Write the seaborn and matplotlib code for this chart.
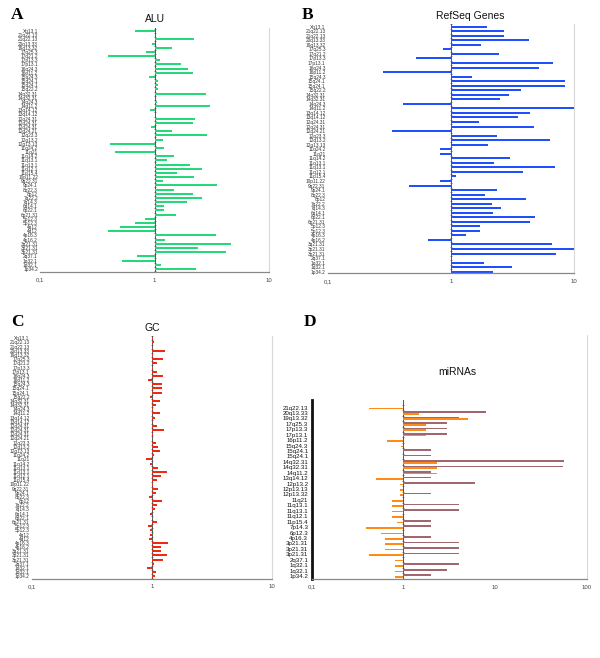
import numpy as np
import pandas as pd
import matplotlib
matplotlib.use("Agg")
import matplotlib.pyplot as plt
import seaborn as sns
from matplotlib.lines import Line2D

# ---------------- data ----------------
labels_ac = ["Xq13.1", "21q22.13", "21q22.13", "20q13.33", "19q13.32", "17q25.3", "17q21.2",
             "17p13.3", "17p13.1", "16q24.3", "16p11.2", "15q24.3", "15q24.1", "15q24.1",
             "15q22.2", "14q32.31", "14q32.31", "14q24.3", "14q11.2", "13q14.12", "13q14.12",
             "12q24.31", "12q24.31", "12q24.31", "12q24.21", "12q23.3", "12q13.2", "12q13.13",
             "11q24.2", "11q21", "11q14.2", "11q13.1", "11q13.1", "11q12.1", "11p15.4",
             "10p11.22", "9q22.31", "9p24.1", "8q22.3", "8p12", "7q22.2", "7q14.3", "6q14.1",
             "6p22.1", "6p21.31", "5p12.3", "5p12.3", "4q12", "4q12", "4p16.3", "4p16.2",
             "3q21.31", "3p21.31", "3p21.31", "2q37.1", "1q32.1", "1q32.1", "1p34.2"]

alu = [0.67, 1.0, 2.23, 0.96, 1.43, 0.84, 0.39, 1.12, 1.69, 1.95, 2.18, 0.90, 1.07, 1.07,
       1.07, 2.83, 1.0, 1.05, 3.04, 0.92, 1.0, 2.25, 2.18, 0.93, 1.43, 2.88, 1.18, 0.41,
       1.21, 0.45, 1.47, 1.29, 2.06, 2.59, 1.58, 2.21, 1.19, 3.50, 1.48, 2.16, 2.59, 1.93,
       1.22, 1.21, 1.55, 0.83, 0.68, 0.50, 0.39, 3.43, 1.23, 4.67, 2.39, 4.25, 0.70, 0.52,
       1.14, 2.31]

labels_b = ["Xq13.1", "21q22.13", "21q22.13", "20q13.33", "19q13.32", "17q25.3", "17q21.2",
            "17p13.3", "17p13.1", "16q24.3", "16p11.2", "15q24.3", "15q24.1", "15q24.1",
            "15q22.2", "14q32.31", "14q32.31", "14q24.3", "14q11.2", "13q14.12", "13q14.12",
            "12q24.31", "12q24.31", "12q24.21", "12q23.3", "12q13.2", "12q13.13",
            "11q24.2", "11q21", "11q14.2", "11q13.1", "11q13.1", "11q12.1", "11p15.4",
            "10p11.22", "9q22.31", "9p24.1", "8q22.3", "8p12", "7q22.2", "7q14.3", "6q14.1",
            "6p22.1", "6p21.31", "5p12.3", "5p12.3", "4p16.3", "4p16.2",
            "3q21.31", "3p21.31", "3p21.31", "2q37.1", "1q32.1", "1q32.1", "1p34.2"]

refseq = [1.95, 2.68, 2.68, 4.32, 1.77, 0.87, 2.45, 0.52, 6.73, 5.15, 0.28, 1.48, 8.53, 8.53,
          3.72, 2.94, 2.51, 0.41, 10.0, 4.41, 3.54, 1.69, 4.72, 0.33, 2.35, 6.40, 2.01, 0.82,
          0.82, 3.05, 2.22, 6.95, 3.87, 1.10, 0.82, 0.46, 2.35, 1.88, 4.11, 2.14, 2.55, 2.18,
          4.81, 4.38, 1.72, 1.72, 1.32, 0.65, 6.61, 10.0, 7.12, 1.0, 1.85, 3.13, 2.18]

gc = [1.03, 1.05, 1.0, 1.29, 1.03, 1.23, 1.11, 1.03, 1.11, 1.23, 0.93, 1.22, 1.21, 1.21,
      0.96, 1.16, 1.09, 1.02, 1.18, 1.07, 1.0, 1.11, 1.27, 1.02, 1.0, 1.09, 1.13, 1.16,
      1.05, 0.90, 0.97, 1.12, 1.34, 1.20, 1.11, 1.03, 1.12, 1.09, 0.94, 1.21, 1.11, 1.06,
      0.96, 1.0, 1.10, 0.93, 0.96, 0.96, 0.95, 1.36, 1.20, 1.20, 1.34, 1.25, 1.05, 0.92,
      1.08, 1.07]

labels_d = ["21q22.13", "20q13.33", "19q13.32", "17q25.3", "17p13.3", "17p13.1", "16p11.2",
            "15q24.3", "15q24.1", "15q24.1", "14q32.31", "14q32.31", "14q11.2", "13q14.12",
            "12p13.2", "12p13.13", "12p13.32", "11q21", "11q13.1", "11q13.1", "11q12.1",
            "11p15.4", "7p14.3", "6p12.3", "4p16.3", "3p21.31", "3p21.31", "3p21.31",
            "2q37.1", "1q32.1", "1q32.1", "1p34.2"]

mirna_brown = [1.0, 8.0, 4.05, 3.02, 3.02, 3.02, 1.0, 1.0, 2.02, 2.02, 56.0, 55.0, 2.02, 2.02,
               6.1, 1.0, 2.02, 1.0, 4.05, 4.05, 1.0, 2.02, 2.02, 1.0, 2.02, 4.05, 4.05, 4.05,
               1.0, 4.05, 3.02, 2.02]
mirna_orange = [0.42, 1.48, 5.08, 1.75, 1.75, 1.75, 0.67, 0.95, 1.0, 1.0, 2.35, 2.35, 2.35, 0.50,
                0.91, 0.91, 0.91, 0.75, 0.75, 0.75, 0.75, 0.85, 0.39, 0.57, 0.63, 0.63, 0.63,
                0.42, 0.81, 0.81, 0.81, 0.81]

# ---------------- style ----------------
sns.set_theme(style="white")
plt.rcParams["font.family"] = ["Liberation Sans", "DejaVu Sans"]

W, H = 600, 658
fig = plt.figure(figsize=(W / 100, H / 100), dpi=100)


def add_ax(x0, x1, ytop, ybot):
    return fig.add_axes([x0 / W, 1 - ybot / H, (x1 - x0) / W, (ybot - ytop) / H])


def solidify(ax):
    for p in ax.patches:
        p.set_linewidth(0)
        p.set_antialiased(True)


def style_axis(ax, n, ylim, xticks, xticklabels, center_frac, label_size, left_black=False):
    ax.set_ylim(*ylim)
    ax.set_xlim(xticks[0], xticks[-1])
    ax.set_xticks(xticks)
    ax.set_xticklabels(xticklabels, fontsize=4.3, color="#444444")
    ax.tick_params(axis="x", length=0, pad=4)
    ax.tick_params(axis="y", length=0, pad=1.5, labelsize=label_size, labelcolor="#333333")
    ax.set_xlabel("")
    ax.set_ylabel("")
    ax.spines["top"].set_visible(False)
    ax.spines["right"].set_color("#d8d8d8")
    ax.spines["right"].set_linewidth(0.8)
    ax.spines["bottom"].set_color("#888888")
    ax.spines["bottom"].set_linewidth(0.9)
    if left_black:
        ax.spines["left"].set_color("#111111")
        ax.spines["left"].set_linewidth(2.0)
    else:
        ax.spines["left"].set_visible(False)
    sec = ax.secondary_yaxis(center_frac)
    sec.set_yticks(np.arange(n + 1) - 0.5)
    sec.set_yticklabels([])
    sec.tick_params(length=1.6, width=0.5, direction="inout", color="#555555")
    for sp in sec.spines.values():
        sp.set_color("#555555")
        sp.set_linewidth(0.7)
    ax.grid(False)


def hpanel(box, labels, values, color, ylim, barw):
    ax = add_ax(*box)
    n = len(values)
    df = pd.DataFrame({"pos": [str(i) for i in range(n)], "logv": np.log10(values)})
    sns.barplot(data=df, x="logv", y="pos", order=list(df["pos"]), orient="y",
                color=color, saturation=1, width=barw, linewidth=0, ax=ax)
    solidify(ax)
    ax.set_yticks(range(n))
    ax.set_yticklabels(labels)
    style_axis(ax, n, ylim, [-1, 0, 1], ["0,1", "1", "10"], 0.5, 3.4)
    return ax


axA = hpanel((40, 269, 28, 272), labels_ac, alu, "#25d97a", (57.75, -0.72), 0.48)
axB = hpanel((327.7, 574, 24, 273.3), labels_b, refseq, "#1f4fff", (54.35, -0.6), 0.44)
axC = hpanel((31.7, 272, 336, 578.7), labels_ac, gc, "#ee2a12", (57.58, -0.55), 0.48)

# panel D
axD = add_ax(311.7, 586.7, 400, 579)
nd = len(labels_d)
dfd = pd.DataFrame({
    "pos": [str(i) for i in range(nd)] * 2,
    "series": ["brown"] * nd + ["orange"] * nd,
    "logv": np.log10(mirna_brown + mirna_orange),
})
sns.barplot(data=dfd, x="logv", y="pos", hue="series", order=[str(i) for i in range(nd)],
            hue_order=["brown", "orange"], palette={"brown": "#a0686e", "orange": "#ff8a14"},
            orient="y", saturation=1, width=0.62, linewidth=0, dodge=True, legend=False, ax=axD)
solidify(axD)
axD.set_yticks(range(nd))
axD.set_yticklabels(labels_d)
style_axis(axD, nd, (31.56, -1.4), [-1, 0, 1, 2], ["0,1", "1", "10", "100"], 1 / 3, 4.4,
           left_black=True)
axD.tick_params(axis="y", labelcolor="#111111", pad=2.5)
fig.add_artist(Line2D([586.7 / W, 586.7 / W], [1 - 335 / H, 1 - 400 / H],
                      color="#d8d8d8", lw=0.8))

# titles and panel letters
for txt, x, y in [("ALU", 155, 19), ("RefSeq Genes", 470, 16), ("GC", 152, 328),
                  ("miRNAs", 457, 372)]:
    fig.text(x / W, 1 - y / H, txt, ha="center", va="center", fontsize=7.5, color="#111111")
for txt, x, y in [("A", 11, 15), ("B", 302, 15), ("C", 11, 322), ("D", 304, 322)]:
    fig.text(x / W, 1 - y / H, txt, ha="left", va="center", fontsize=12.5, fontweight="bold",
             family=["Liberation Serif", "DejaVu Serif"], color="#000000")

fig.savefig("out.png", dpi=100, facecolor="white")
